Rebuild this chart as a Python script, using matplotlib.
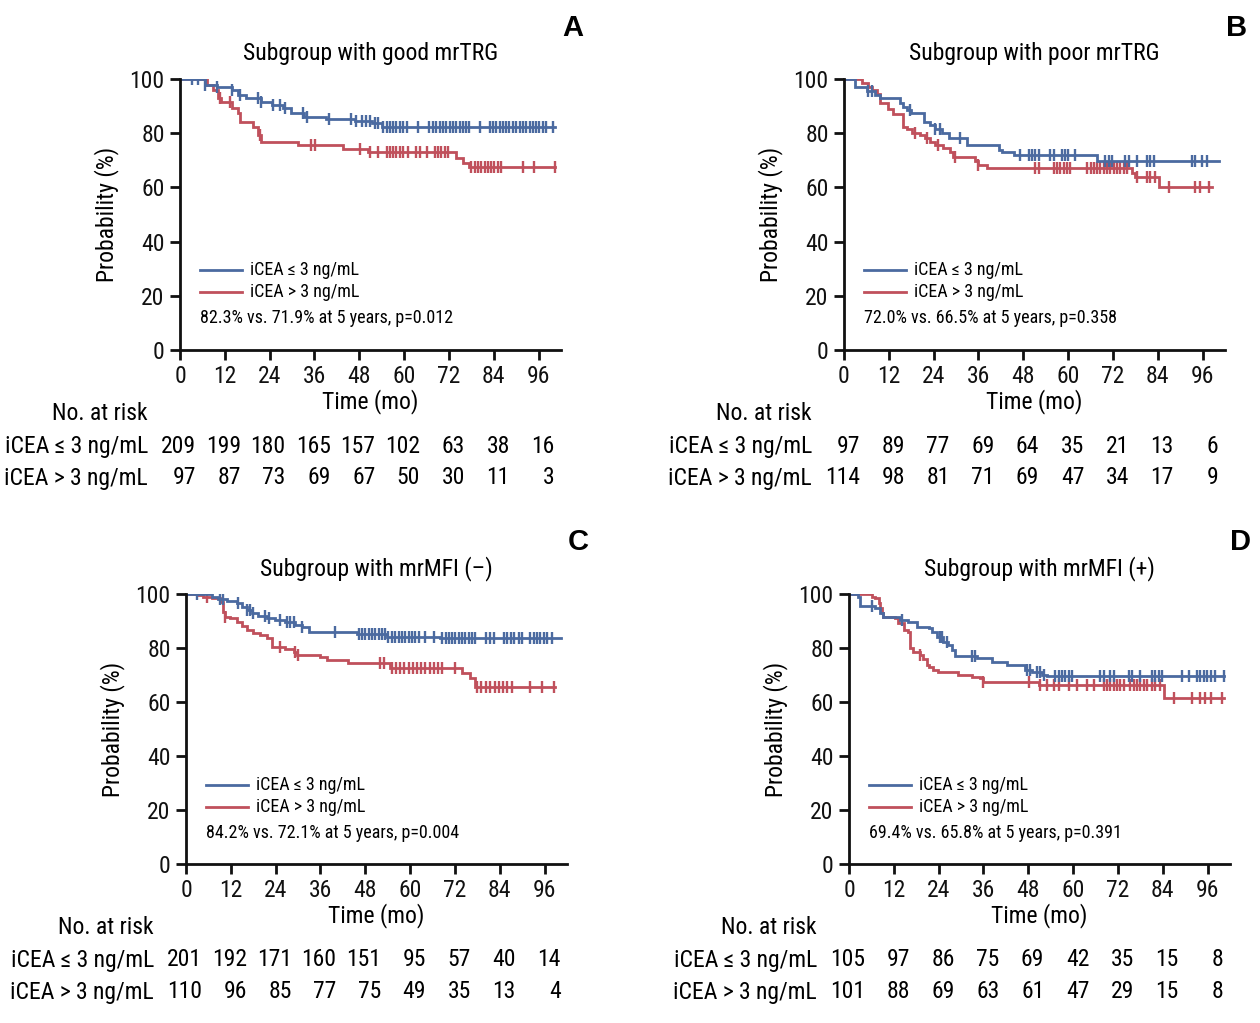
import numpy as np
import matplotlib
matplotlib.use("Agg")
import matplotlib.pyplot as plt
from matplotlib import font_manager
from matplotlib.transforms import blended_transform_factory

# the reference uses a condensed face; use one if installed, else shrink Liberation Sans a bit
installed = {f.name for f in font_manager.fontManager.ttflist}
condensed = [n for n in ['Roboto Condensed', 'Liberation Sans Narrow', 'Open Sans Condensed'] if n in installed]
if condensed:
    plt.rcParams['font.family'] = [condensed[0], 'DejaVu Sans']
    FS = 1.0
else:
    plt.rcParams['font.family'] = ['Liberation Sans', 'DejaVu Sans']
    FS = 0.89

BLUE = '#4b6aa0'
RED = '#c0505c'

# ---- data (months, survival %) ----
titles = ["Subgroup with good mrTRG", "Subgroup with poor mrTRG",
          "Subgroup with mrMFI (\u2013)", "Subgroup with mrMFI (+)"]
letters = ["A", "B", "C", "D"]
summaries = ["82.3% vs. 71.9% at 5 years, p=0.012",
             "72.0% vs. 66.5% at 5 years, p=0.358",
             "84.2% vs. 72.1% at 5 years, p=0.004",
             "69.4% vs. 65.8% at 5 years, p=0.391"]
group_labels = ["iCEA \u2264 3 ng/mL", "iCEA > 3 ng/mL"]
risk_times = [0, 12, 24, 36, 48, 60, 72, 84, 96]

# Panel A
a_blue_t = [0, 6.7, 9.8, 13.8, 15.5, 17.8, 21.6, 24.7, 27.5, 29.7, 33.2, 39.0, 46.8, 51.5, 54.0]
a_blue_s = [100, 97.8, 97.0, 96.0, 94.0, 92.9, 91.6, 90.4, 89.2, 87.3, 86.1, 85.2, 84.6, 83.6, 82.2]
a_blue_end = 100.3
a_blue_cens = [3.1, 4.9, 6.7, 9.8, 13.8, 16.0, 20.9, 21.8, 25.0, 26.7, 28.1, 33.0, 33.9, 39.9,
               45.9, 47.2, 48.6, 49.9, 50.8, 52.1, 53.0, 54.4, 55.3, 56.1, 57.0, 57.9, 58.8,
               59.7, 60.8, 63.7, 66.8, 67.7, 68.6, 69.5, 70.4, 71.3, 72.2, 73.1, 74.0, 74.9,
               75.8, 76.6, 77.5, 80.2, 82.9, 83.8, 84.7, 85.6, 86.4, 87.3, 88.2, 89.1, 90.0,
               90.9, 91.8, 92.7, 93.6, 94.5, 95.3, 96.2, 97.1, 98.0, 99.8]
a_red_t = [0, 7.1, 8.9, 10.2, 11.1, 13.8, 15.6, 16.0, 19.6, 20.9, 21.8, 31.6, 43.7, 50.4, 74.0, 75.8, 77.5]
a_red_s = [100, 97.8, 95.9, 92.9, 91.6, 89.2, 87.3, 84.2, 82.4, 79.3, 76.9, 75.6, 74.2, 73.2, 70.7, 68.9, 67.4]
a_red_end = 100.3
a_red_cens = [10.7, 13.4, 21.4, 35.2, 36.1, 48.1, 50.8, 53.0, 55.3, 56.1, 57.0, 57.9, 58.8,
              59.7, 61.0, 63.3, 64.2, 66.0, 68.2, 69.1, 70.0, 70.9, 71.7, 78.0, 78.9, 79.8,
              80.7, 81.6, 82.4, 83.3, 84.2, 85.1, 86.0, 91.8, 94.9, 100.3]
a_risk_blue = [209, 199, 180, 165, 157, 102, 63, 38, 16]
a_risk_red = [97, 87, 73, 69, 67, 50, 30, 11, 3]

# Panel B
b_blue_t = [0, 2.9, 6.1, 8.3, 9.7, 15.0, 15.9, 16.8, 18.0, 21.3, 23.1, 24.4, 26.2, 28.0, 32.9,
            41.4, 42.3, 45.4, 67.7]
b_blue_s = [100, 96.9, 95.7, 94.1, 92.9, 91.0, 89.8, 88.6, 87.6, 84.2, 83.0, 81.4, 79.9, 78.1,
            75.6, 73.8, 73.2, 72.0, 69.9]
b_blue_end = 100.3
b_blue_cens = [6.5, 7.4, 17.7, 24.4, 25.7, 31.1, 47.2, 49.4, 50.3, 51.2, 52.1, 55.2, 56.1, 58.4,
               59.2, 60.1, 61.9, 70.0, 70.9, 71.8, 75.3, 76.2, 78.5, 81.2, 82.0, 82.9, 93.2,
               94.1, 95.9, 97.2]
b_red_t = [0, 4.7, 6.5, 7.4, 8.8, 9.7, 11.9, 13.0, 15.9, 16.8, 18.1, 20.4, 21.7, 23.1, 24.4,
           26.6, 28.4, 29.3, 35.1, 36.0, 38.3, 77.1, 78.0, 84.3]
b_red_s = [100, 98.6, 97.2, 95.9, 94.5, 91.0, 88.8, 87.0, 82.4, 81.4, 80.2, 79.3, 78.1, 76.9,
           75.6, 74.4, 73.2, 71.3, 69.9, 68.3, 67.0, 65.2, 63.7, 60.3]
b_red_end = 98.6
b_red_cens = [19.0, 22.2, 25.3, 29.8, 36.0, 51.2, 52.1, 56.1, 57.0, 57.9, 58.8, 59.7, 60.6,
              65.1, 66.0, 66.9, 67.7, 68.6, 69.5, 70.4, 71.3, 72.2, 73.1, 74.0, 74.9, 75.8,
              78.5, 81.2, 82.0, 83.4, 86.9, 94.1, 95.4, 97.7]
b_risk_blue = [97, 89, 77, 69, 64, 35, 21, 13, 6]
b_risk_red = [114, 98, 81, 71, 69, 47, 34, 17, 9]

# Panel C
c_blue_t = [0, 6.9, 8.7, 10.9, 13.6, 14.9, 16.3, 17.6, 19.4, 21.6, 23.9, 26.5, 29.2, 31.0,
            32.8, 45.8, 53.8, 68.1]
c_blue_s = [100, 99.0, 98.1, 97.4, 96.5, 95.3, 94.1, 92.8, 92.0, 91.0, 90.4, 89.5, 88.5, 87.9,
            86.0, 85.1, 84.2, 83.6]
c_blue_end = 100.3
c_blue_cens = [2.9, 9.1, 10.0, 14.0, 16.3, 17.2, 18.0, 21.2, 22.1, 25.2, 27.0, 27.9, 28.8,
               31.0, 39.9, 46.2, 47.1, 48.0, 48.9, 49.8, 50.7, 51.6, 52.5, 53.4, 54.2, 55.1,
               56.0, 56.9, 57.8, 58.7, 59.6, 60.5, 61.4, 62.3, 64.1, 66.3, 68.6, 69.5, 70.3,
               71.2, 72.1, 73.0, 73.9, 74.8, 75.7, 76.6, 77.5, 80.2, 81.5, 82.4, 85.1, 86.0,
               86.9, 87.8, 89.1, 90.0, 92.2, 93.1, 94.0, 94.9, 95.8, 96.7, 98.0]
c_red_t = [0, 3.3, 4.6, 6.9, 9.1, 10.0, 10.5, 11.8, 13.6, 14.9, 16.3, 18.0, 19.8, 21.6, 23.0,
           26.5, 28.8, 29.7, 35.9, 37.7, 43.5, 54.7, 73.9, 76.1, 77.5]
c_red_s = [100, 99.6, 99.0, 98.4, 97.2, 93.5, 91.6, 91.0, 89.5, 88.3, 86.7, 85.4, 84.8, 83.6,
           80.5, 79.6, 78.6, 77.4, 76.8, 75.6, 74.3, 72.5, 70.6, 68.8, 65.7]
c_red_end = 98.9
c_red_cens = [5.5, 10.5, 25.2, 29.2, 30.1, 52.0, 52.9, 55.1, 56.2, 57.4, 58.5, 59.6, 60.7,
              61.8, 62.9, 64.1, 65.2, 66.3, 67.4, 68.6, 72.1, 77.9, 79.0, 80.2, 81.4, 82.6,
              83.7, 84.9, 86.0, 87.3, 92.2, 95.4, 98.5]
c_risk_blue = [201, 192, 171, 160, 151, 95, 57, 40, 14]
c_risk_red = [110, 96, 85, 77, 75, 49, 35, 13, 4]

# Panel D
d_blue_t = [0, 2.5, 2.9, 7.0, 8.3, 9.2, 13.7, 15.9, 18.1, 21.3, 22.2, 23.5, 25.3, 26.6, 27.5,
            28.4, 34.2, 38.3, 42.3, 47.2, 49.0, 51.7, 53.0]
d_blue_s = [100, 99.0, 95.7, 94.7, 92.8, 91.6, 90.4, 89.8, 87.9, 87.3, 86.0, 84.2, 82.3, 81.1,
            79.3, 77.2, 76.2, 74.9, 73.7, 71.9, 71.2, 70.0, 69.6]
d_blue_end = 100.3
d_blue_cens = [6.1, 14.1, 24.4, 24.8, 26.2, 32.9, 33.8, 47.6, 48.5, 50.3, 51.2, 52.1, 55.2,
               56.1, 57.0, 57.9, 58.8, 59.7, 67.3, 68.2, 70.0, 70.9, 74.9, 75.8, 78.0, 81.2,
               82.0, 82.9, 83.8, 89.2, 91.0, 93.2, 94.1, 95.0, 95.9, 96.8, 98.1, 100.3]
d_red_t = [0, 6.1, 7.0, 7.9, 8.3, 8.8, 9.2, 12.3, 13.2, 14.6, 15.9, 16.4, 17.2, 19.0, 19.9,
           20.8, 21.3, 22.6, 23.9, 29.3, 32.9, 35.1, 36.0, 50.8, 84.3]
d_red_s = [100, 99.0, 98.4, 96.5, 94.7, 92.8, 91.6, 91.0, 89.1, 86.7, 86.0, 79.9, 78.6, 77.4,
           75.9, 73.7, 73.1, 71.9, 71.0, 70.0, 69.4, 68.8, 67.3, 66.3, 61.6]
d_red_end = 100.3
d_red_cens = [19.0, 36.0, 48.1, 51.2, 53.0, 54.8, 56.1, 58.8, 61.0, 63.7, 65.5, 68.2, 69.1,
              70.0, 70.9, 71.8, 72.6, 73.5, 75.3, 76.2, 77.1, 78.0, 78.9, 79.8, 81.2, 82.0,
              83.4, 86.9, 91.8, 94.1, 95.4, 96.8, 99.9]
d_risk_blue = [105, 97, 86, 75, 69, 42, 35, 15, 8]
d_risk_red = [101, 88, 69, 63, 61, 47, 29, 15, 8]

panels = [
    (a_blue_t, a_blue_s, a_blue_end, a_blue_cens, a_red_t, a_red_s, a_red_end, a_red_cens, a_risk_blue, a_risk_red),
    (b_blue_t, b_blue_s, b_blue_end, b_blue_cens, b_red_t, b_red_s, b_red_end, b_red_cens, b_risk_blue, b_risk_red),
    (c_blue_t, c_blue_s, c_blue_end, c_blue_cens, c_red_t, c_red_s, c_red_end, c_red_cens, c_risk_blue, c_risk_red),
    (d_blue_t, d_blue_s, d_blue_end, d_blue_cens, d_red_t, d_red_s, d_red_end, d_red_cens, d_risk_blue, d_risk_red),
]

W, H = 1260, 1023
fig = plt.figure(figsize=(W / 100, H / 100), dpi=100)

# axes pixel boxes: left x of time 0, top y, bottom y
ax_px = [(180, 79, 350), (844, 79, 350), (186, 594, 864), (849, 594, 864)]
letter_px = [(573, 28), (1237, 28), (578, 542), (1241, 542)]
risk_rows_px = [(414, 446, 478), (414, 446, 478), (928, 960, 992), (928, 960, 992)]
XMAX = 102
PX_PER_MO = 3.735
big = 17 * FS
small = 13 * FS


def km_draw(ax, t, s, end, cens, color):
    tt = list(t) + [end]
    ss = list(s) + [s[-1]]
    ax.step(tt, ss, where='post', color=color, lw=2.0, solid_joinstyle='miter')
    idx = np.searchsorted(np.array(t), np.array(cens), side='right') - 1
    cy = np.array(s)[idx]
    ax.plot(cens, cy, ls='none', marker='|', ms=8, mew=1.7, color=color)


for i, p in enumerate(panels):
    bt, bs, bend, bc, rt, rs, rend, rc, rb, rr = p
    x0, ytop, ybot = ax_px[i]
    wpx = XMAX * PX_PER_MO
    hpx = ybot - ytop
    ax = fig.add_axes([x0 / W, 1 - ybot / H, wpx / W, hpx / H])

    km_draw(ax, rt, rs, rend, rc, RED)
    km_draw(ax, bt, bs, bend, bc, BLUE)

    ax.set_xlim(0, XMAX)
    ax.set_ylim(0, 100)
    ax.set_xticks(risk_times)
    ax.set_yticks([0, 20, 40, 60, 80, 100])
    ax.tick_params(direction='out', length=7, width=2, labelsize=big, pad=4, colors='#111111')
    for side in ['top', 'right']:
        ax.spines[side].set_visible(False)
    for side in ['left', 'bottom']:
        ax.spines[side].set_linewidth(2)
        ax.spines[side].set_color('#111111')
    ax.patch.set_alpha(0)

    ax.set_ylabel("Probability (%)", fontsize=big)
    ax.yaxis.set_label_coords(-73 / wpx, 0.5)
    ax.set_xlabel("Time (mo)", fontsize=big)
    ax.xaxis.set_label_coords(0.5, -52 / hpx)
    ax.xaxis.label.set_va('center')
    ax.yaxis.label.set_va('center')

    ax.text(0.5, 1 + 25 / hpx, titles[i], transform=ax.transAxes, ha='center', va='center', fontsize=big)
    fig.text(letter_px[i][0] / W, 1 - letter_px[i][1] / H, letters[i], ha='center', va='center',
             fontsize=21, fontweight='bold', family=['Liberation Sans', 'DejaVu Sans'])

    # legend and 5-year summary (offsets measured from the axes top)
    for k, (lab, col) in enumerate(zip(group_labels, [BLUE, RED])):
        ly = 1 - (191 + 22 * k) / hpx
        ax.plot([20 / wpx, 62 / wpx], [ly, ly], transform=ax.transAxes, color=col, lw=2.0)
        ax.text(70 / wpx, ly, lab, transform=ax.transAxes, ha='left', va='center', fontsize=small)
    ax.text(20 / wpx, 1 - 239 / hpx, summaries[i], transform=ax.transAxes,
            ha='left', va='center', fontsize=small)

    # number at risk
    ynr, y1, y2 = risk_rows_px[i]
    trans = blended_transform_factory(ax.transData, fig.transFigure)
    lab_trans = blended_transform_factory(ax.transAxes, fig.transFigure)
    lab_x = -32 / wpx
    ax.text(lab_x, 1 - ynr / H, "No. at risk", transform=lab_trans, ha='right', va='center', fontsize=big)
    for row_y, lab, vals in [(y1, group_labels[0], rb), (y2, group_labels[1], rr)]:
        ax.text(lab_x, 1 - row_y / H, lab, transform=lab_trans, ha='right', va='center', fontsize=big)
        for tm, v in zip(risk_times, vals):
            ax.text(tm + 4.3, 1 - row_y / H, str(v), transform=trans, ha='right', va='center',
                    fontsize=big, clip_on=False)

fig.savefig("out.png", dpi=100, facecolor='white')
